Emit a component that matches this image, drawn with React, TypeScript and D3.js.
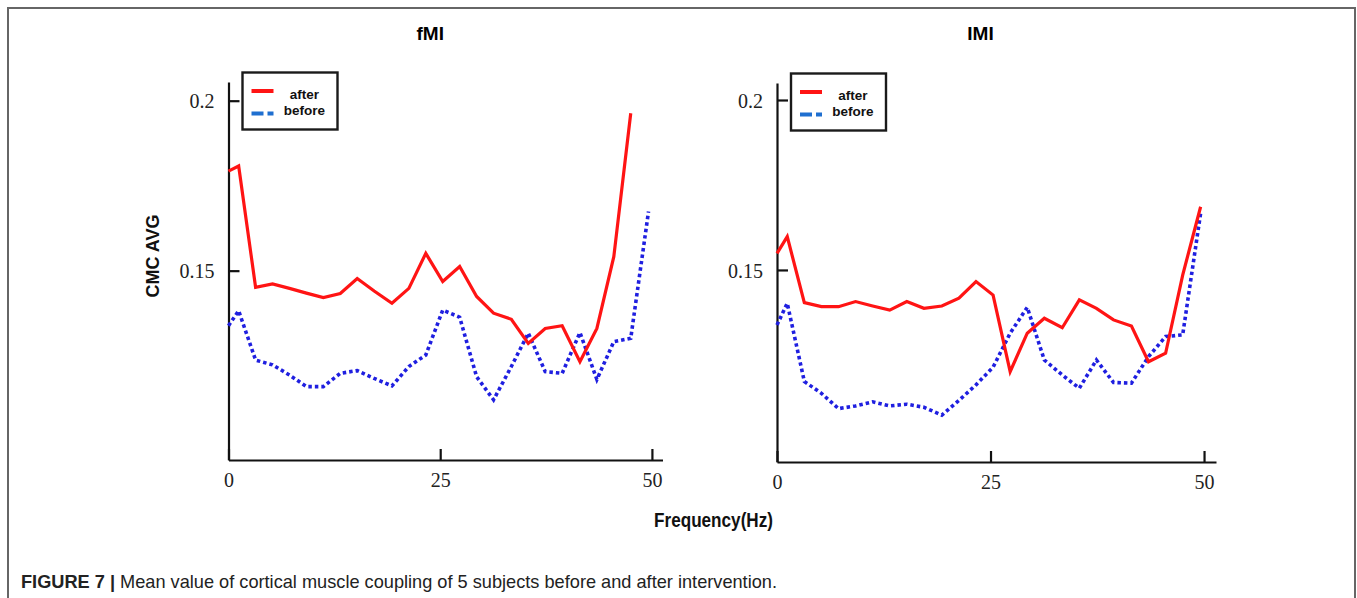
import React, { useEffect, useRef } from 'react';
import * as d3 from 'd3';

// frequency bins (Hz) shared by both panels
const freqHz = [0, 1.2, 3.2, 5.2, 7.2, 9.2, 11.2, 13.2, 15.2, 17.2, 19.3, 21.3, 23.3, 25.3, 27.3, 29.3, 31.3, 33.4, 35.4, 37.4, 39.4, 41.5, 43.5, 45.5, 47.5, 49.6];

// fMI
const fmiAfter = [0.1793, 0.1808, 0.1451, 0.1461, 0.1448, 0.1434, 0.1421, 0.1433, 0.1477, 0.1440, 0.1404, 0.1448, 0.1551, 0.1468, 0.1512, 0.1424, 0.1375, 0.1357, 0.1286, 0.1330, 0.1338, 0.1232, 0.1330, 0.1541, 0.1963, null];
const fmiBefore = [0.1338, 0.1382, 0.1237, 0.1223, 0.1193, 0.1159, 0.1159, 0.1198, 0.1206, 0.1183, 0.1161, 0.1218, 0.1252, 0.1384, 0.1363, 0.1188, 0.1120, 0.1218, 0.1316, 0.1203, 0.1198, 0.1318, 0.1180, 0.1291, 0.1301, 0.1674];

// IMI
const imiAfter = [0.1549, 0.1598, 0.1404, 0.1392, 0.1392, 0.1407, 0.1394, 0.1382, 0.1407, 0.1387, 0.1394, 0.1417, 0.1466, 0.1426, 0.1201, 0.1314, 0.1358, 0.1330, 0.1412, 0.1387, 0.1353, 0.1335, 0.1230, 0.1255, 0.1485, 0.1686];
const imiBefore = [0.1338, 0.1402, 0.1172, 0.1137, 0.1092, 0.1100, 0.1112, 0.1100, 0.1105, 0.1096, 0.1073, 0.1116, 0.1162, 0.1214, 0.1314, 0.1390, 0.1235, 0.1191, 0.1152, 0.1235, 0.1169, 0.1167, 0.1245, 0.1304, 0.1309, 0.1667];

const xTicks = [0, 25, 50];
const yTicks = [0.15, 0.2];
const legendLabels = ['after', 'before'];

const panels = [
  { title: 'fMI', after: fmiAfter, before: fmiBefore, left: 228.5, right: 662.5, top: 82, bottom: 460, xMax: 51.25, yMin: 0.0943, yMax: 0.2055 },
  { title: 'IMI', after: imiAfter, before: imiBefore, left: 777, right: 1216, top: 83, bottom: 462, xMax: 51.4, yMin: 0.0935, yMax: 0.2050 },
];

const App = () => {
  const svgRef = useRef<SVGSVGElement>(null);

  useEffect(() => {
    const svg = d3.select(svgRef.current);
    svg.selectAll('*').remove();

    svg.append('rect')
      .attr('width', 1357).attr('height', 598).attr('fill', '#fff');

    // figure frame
    svg.append('rect')
      .attr('x', 8).attr('y', 8).attr('width', 1347).attr('height', 640)
      .attr('fill', 'none').attr('stroke', '#666').attr('stroke-width', 2);

    panels.forEach(p => {
      const x = d3.scaleLinear().domain([0, p.xMax]).range([p.left, p.right]);
      const y = d3.scaleLinear().domain([p.yMin, p.yMax]).range([p.bottom, p.top]);
      const g = svg.append('g');

      // title
      g.append('text')
        .attr('x', x(25) - 10).attr('y', 40)
        .attr('text-anchor', 'middle')
        .style('font-family', 'Liberation Sans, Arial, sans-serif')
        .style('font-weight', 'bold').style('font-size', '19px')
        .text(p.title);

      // axes
      const xAxis = g.append('g')
        .attr('transform', `translate(0,${p.bottom})`)
        .call(d3.axisBottom(x).tickValues(xTicks).tickSizeInner(-11).tickSizeOuter(0).tickPadding(13).tickFormat(d => String(d)));
      const yAxis = g.append('g')
        .attr('transform', `translate(${p.left},0)`)
        .call(d3.axisLeft(y).tickValues(yTicks).tickSizeInner(-11).tickSizeOuter(0).tickPadding(14).tickFormat(d => String(d)));

      [xAxis, yAxis].forEach(a => {
        a.select('.domain').attr('stroke', '#111').attr('stroke-width', 2.2);
        a.selectAll('.tick line').attr('stroke', '#111').attr('stroke-width', 2.2);
        a.selectAll('.tick text')
          .attr('fill', '#222')
          .style('font-family', 'Liberation Serif, Times New Roman, serif')
          .style('font-size', '20px');
      });
      yAxis.selectAll('.tick text').attr('dy', '0.36em');

      // lines
      const line = d3.line<number | null>()
        .defined(d => d != null)
        .x((_, i) => x(freqHz[i]))
        .y(d => y(d as number));

      g.append('path')
        .datum(p.before)
        .attr('d', line)
        .attr('fill', 'none')
        .attr('stroke', '#1f1fe0')
        .attr('stroke-width', 3.6)
        .attr('stroke-dasharray', '3.5,3');

      g.append('path')
        .datum(p.after)
        .attr('d', line)
        .attr('fill', 'none')
        .attr('stroke', '#ff1414')
        .attr('stroke-width', 3.2)
        .attr('stroke-linejoin', 'miter');

      // legend
      const lg = g.append('g').attr('transform', `translate(${p.left + 14},${p.top - 9.5})`);
      lg.append('rect')
        .attr('width', 95).attr('height', 57)
        .attr('fill', '#fff').attr('stroke', '#1a1a1a').attr('stroke-width', 2.4);
      lg.append('line')
        .attr('x1', 9).attr('x2', 31).attr('y1', 18.5).attr('y2', 18.5)
        .attr('stroke', '#ff1414').attr('stroke-width', 4);
      lg.append('line')
        .attr('x1', 9).attr('x2', 31).attr('y1', 41).attr('y2', 41)
        .attr('stroke', '#1f6fd0').attr('stroke-width', 4).attr('stroke-dasharray', '12,4');
      legendLabels.forEach((lab, i) => {
        lg.append('text')
          .attr('x', 62).attr('y', i === 0 ? 26 : 42)
          .attr('text-anchor', 'middle')
          .style('font-family', 'Liberation Sans, Arial, sans-serif')
          .style('font-weight', 'bold').style('font-size', '13.5px')
          .attr('fill', '#111')
          .text(lab);
      });
    });

    // shared axis titles
    svg.append('text')
      .attr('transform', 'translate(159,256) rotate(-90)')
      .attr('text-anchor', 'middle')
      .style('font-family', 'Liberation Sans, Arial, sans-serif')
      .style('font-weight', 'bold').style('font-size', '18px')
      .attr('fill', '#111')
      .text('CMC AVG');

    // condensed look: squeeze to the reference width
    svg.append('text')
      .attr('x', 654).attr('y', 527)
      .attr('textLength', 119).attr('lengthAdjust', 'spacingAndGlyphs')
      .style('font-family', 'Liberation Sans, Arial, sans-serif')
      .style('font-weight', 'bold').style('font-size', '21px')
      .attr('fill', '#111')
      .text('Frequency(Hz)');

    // caption
    const cap = svg.append('text')
      .attr('x', 21).attr('y', 588)
      .attr('textLength', 756).attr('lengthAdjust', 'spacingAndGlyphs')
      .style('font-family', 'Liberation Sans, Arial, sans-serif')
      .style('font-size', '19px')
      .attr('fill', '#222');
    cap.append('tspan').style('font-weight', 'bold').text('FIGURE 7 | ');
    cap.append('tspan').text('Mean value of cortical muscle coupling of 5 subjects before and after intervention.');
  }, []);

  return (
    <div style={{ position: 'absolute', left: 0, top: 0 }}>
      <svg ref={svgRef} width={1357} height={598} style={{ display: 'block' }} />
    </div>
  );
};

export default App;
